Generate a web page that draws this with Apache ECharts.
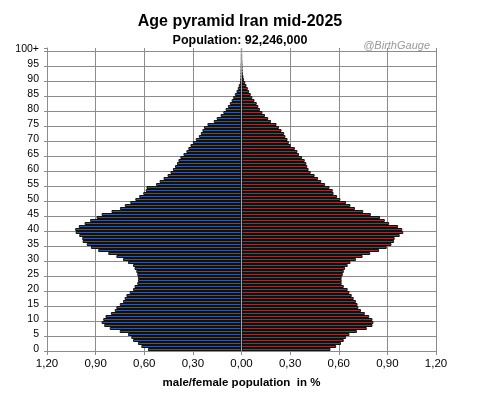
<!DOCTYPE html>
<html>
<head>
<meta charset="utf-8">
<script src="https://cdn.jsdelivr.net/npm/echarts@6/dist/echarts.min.js"></script>
<style>html,body{margin:0;padding:0;background:#fff;}#c{width:480px;height:396px;}</style>
</head>
<body>
<div id="c"></div>
<script>
var ages = [];
for (var i = 0; i < 100; i++) ages.push(String(i));
ages.push('100+');

var male = [0.577,0.618,0.639,0.669,0.680,0.700,0.751,0.813,0.847,0.863,
0.853,0.839,0.806,0.782,0.772,0.751,0.731,0.721,0.710,0.690,
0.669,0.660,0.643,0.639,0.639,0.643,0.649,0.660,0.669,0.700,
0.731,0.772,0.822,0.884,0.929,0.955,0.980,0.983,1.001,1.023,
1.026,1.004,0.968,0.934,0.894,0.863,0.802,0.750,0.720,0.686,
0.655,0.631,0.606,0.591,0.586,0.527,0.505,0.481,0.456,0.438,
0.423,0.410,0.398,0.389,0.377,0.358,0.340,0.328,0.315,0.300,
0.282,0.263,0.251,0.241,0.231,0.210,0.171,0.153,0.129,0.112,
0.098,0.084,0.072,0.061,0.051,0.041,0.031,0.023,0.017,0.010,
0.007,0.005,0.004,0.003,0.002,0.002,0.001,0.001,0.001,0.0005,0.0005];

var female = [0.549,0.584,0.614,0.631,0.645,0.666,0.712,0.773,0.808,0.814,
0.808,0.788,0.761,0.737,0.721,0.716,0.706,0.692,0.680,0.666,
0.655,0.631,0.618,0.618,0.618,0.625,0.631,0.639,0.655,0.672,
0.706,0.747,0.794,0.849,0.896,0.925,0.941,0.945,0.976,0.998,
0.992,0.966,0.911,0.884,0.855,0.798,0.751,0.700,0.672,0.645,
0.610,0.590,0.568,0.563,0.543,0.516,0.492,0.472,0.451,0.427,
0.414,0.406,0.400,0.390,0.374,0.355,0.345,0.329,0.304,0.292,
0.284,0.271,0.263,0.247,0.231,0.216,0.182,0.165,0.145,0.129,
0.114,0.104,0.094,0.080,0.067,0.057,0.047,0.039,0.031,0.023,
0.016,0.012,0.008,0.006,0.004,0.003,0.002,0.001,0.001,0.0005,0.0005];

var titleText = 'Age pyramid Iran mid-2025';
var subText = 'Population: 92,246,000';
var credit = '@BirthGauge';
var xName = 'male/female population  in %';

var font = '"Liberation Sans", Arial, sans-serif';
var gridColor = '#8c8c8c';

var chart = echarts.init(document.getElementById('c'), null, {renderer: 'canvas'});
chart.setOption({
  animation: false,
  backgroundColor: '#fff',
  title: [
    {text: titleText, left: 'center', top: 9, textStyle: {fontFamily: font, fontSize: 16, fontWeight: 'bold', color: '#000'}},
    {text: subText, left: 'center', top: 29, textStyle: {fontFamily: font, fontSize: 12.5, fontWeight: 'bold', color: '#000'}},
    {text: credit, right: 45, top: 35, textStyle: {fontFamily: font, fontSize: 11, fontStyle: 'italic', fontWeight: 'normal', color: '#999'}}
  ],
  grid: {left: 47, right: 44, top: 48, bottom: 45, containLabel: false},
  xAxis: {
    type: 'value', min: -1.2, max: 1.2, interval: 0.3,
    name: xName, nameLocation: 'middle', nameGap: 26,
    nameTextStyle: {fontFamily: font, fontSize: 11.5, fontWeight: 'bold', color: '#000'},
    axisLine: {show: true, lineStyle: {color: gridColor, width: 1}},
    axisTick: {show: true, length: 4, lineStyle: {color: gridColor}},
    axisLabel: {fontFamily: font, fontSize: 11.5, color: '#000', margin: 7,
      formatter: function (v) { return Math.abs(v).toFixed(2).replace('.', ','); }},
    splitLine: {show: true, lineStyle: {color: gridColor, width: 1}}
  },
  yAxis: {
    type: 'category', data: ages,
    axisLine: {show: true, onZero: false, lineStyle: {color: gridColor}},
    axisTick: {show: true, interval: 4, length: 3, lineStyle: {color: gridColor}},
    axisLabel: {interval: 4, fontFamily: font, fontSize: 10.5, color: '#000', margin: 8},
    splitLine: {show: true, interval: 4, showMaxLine: false, lineStyle: {color: gridColor, width: 1}}
  },
  series: [
    {
      name: 'male', type: 'bar', barWidth: '100%', barGap: '-100%',
      data: male.map(function (v) { return -v; }),
      itemStyle: {color: '#3a5795', borderColor: '#111', borderWidth: 1}
    },
    {
      name: 'female', type: 'bar', barWidth: '100%', barGap: '-100%',
      data: female,
      itemStyle: {color: '#8a3437', borderColor: '#111', borderWidth: 1},
      markLine: {silent: true, symbol: 'none', label: {show: false},
        lineStyle: {color: '#a0a0a0', width: 1, type: 'solid'},
        data: [{xAxis: 0}]}
    }
  ]
});
</script>
</body>
</html>
